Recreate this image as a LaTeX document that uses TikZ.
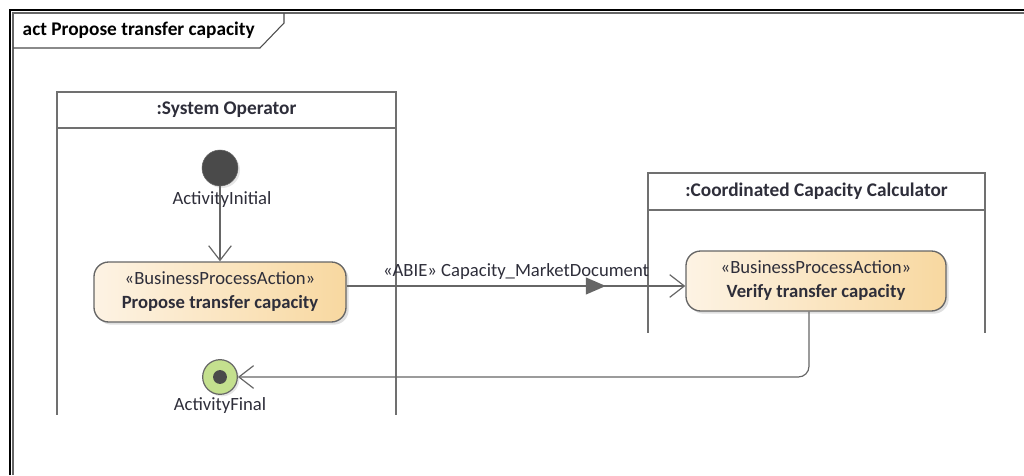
\documentclass[tikz,border=0pt]{standalone}
\usepackage{fontspec}
\setmainfont{Carlito}
\usetikzlibrary{arrows.meta,shadows,decorations.markings}

\definecolor{edgegray}{HTML}{666666}
\definecolor{lanegray}{HTML}{707070}
\definecolor{txtgray}{HTML}{2E2E3A}
\definecolor{actleft}{HTML}{FDF3E4}
\definecolor{actright}{HTML}{F8D8A0}
\definecolor{finalgreen}{HTML}{C4E08E}
\definecolor{dotgray}{HTML}{4A4A4A}

\begin{document}
\begin{tikzpicture}[x=0.75pt, y=-0.75pt,
	action/.style={rectangle, rounded corners=11, draw=edgegray, line width=1pt,
		left color=actleft, right color=actright, minimum height=45pt,
		align=center, text=txtgray, font=\fontsize{14}{18}\selectfont,
		drop shadow={opacity=0.25, shadow xshift=2pt, shadow yshift=-2pt}},
	lane/.style={draw=lanegray, line width=1.5pt},
	flow/.style={draw=edgegray, line width=0.9pt, -{Straight Barb[length=11pt, width=17pt]}},
	caption/.style={text=txtgray, font=\fontsize{14}{16}\selectfont},
	header/.style={text=txtgray, font=\bfseries\fontsize{14.5}{17}\selectfont}]

	\useasboundingbox (0,0) rectangle (1024,475);

	%frame
	\draw[line width=2pt, black] (10,475) -- (10,10) -- (1024,10);
	\draw[line width=0.8pt, black!60] (13,475) -- (13,13) -- (1024,13);
	\draw[line width=0.8pt, black!70] (13,48) -- (260,48) -- (284,23) -- (284,13);
	\node[anchor=west, text=black, font=\bfseries\fontsize{14.5}{17}\selectfont] (title) at (18,30) {act Propose transfer capacity};

	%lanes
	\draw[lane] (57,92) rectangle (396,128);
	\draw[lane] (57,128) -- (57,415) (396,128) -- (396,415);
	\node[header] (sysop) at (226.5,110) {:System Operator};

	\draw[lane] (648,173) rectangle (985,210);
	\draw[lane] (648,210) -- (648,333) (985,210) -- (985,333);
	\node[header] (ccc) at (816.5,191) {:Coordinated Capacity Calculator};

	%nodes
	\node[circle, fill=dotgray, draw=black!60, minimum size=27pt, inner sep=0pt,
		drop shadow={opacity=0.2, shadow xshift=1.5pt, shadow yshift=-1.5pt}] (init) at (220,168) {};
	\node[caption] (initlbl) at (222,200) {ActivityInitial};

	\node[action, minimum width=189pt] (propose) at (220,292)
		{«BusinessProcessAction»\\\textbf{Propose transfer capacity}};
	\node[action, minimum width=195pt] (verify) at (816,281)
		{«BusinessProcessAction»\\\textbf{Verify transfer capacity}};

	\node[circle, fill=finalgreen, draw=edgegray, line width=0.9pt, minimum size=26pt, inner sep=0pt,
		drop shadow={opacity=0.2, shadow xshift=1.5pt, shadow yshift=-1.5pt}] (final) at (220,377) {};
	\fill[dotgray] (final) circle (5.2pt);
	\node[caption] (finallbl) at (220,406) {ActivityFinal};

	%edges
	\coordinate (drop) at (809,0);
	\coordinate (docline) at (0,286);
	\draw[flow] (init) -- (init |- propose.north);
	\draw[flow, postaction={decorate}, decoration={markings,
		mark=at position 0.765 with {\fill[edgegray] (0,0) -- (-15pt,6.5pt) -- (-15pt,-6.5pt) -- cycle;}}]
		(propose.east |- docline) -- node[above=1pt, caption] (doclbl) {«ABIE» Capacity\_MarketDocument} (verify.west |- docline);
	\draw[flow, rounded corners=8] (verify.south -| drop) |- (final.east);
\end{tikzpicture}
\end{document}
